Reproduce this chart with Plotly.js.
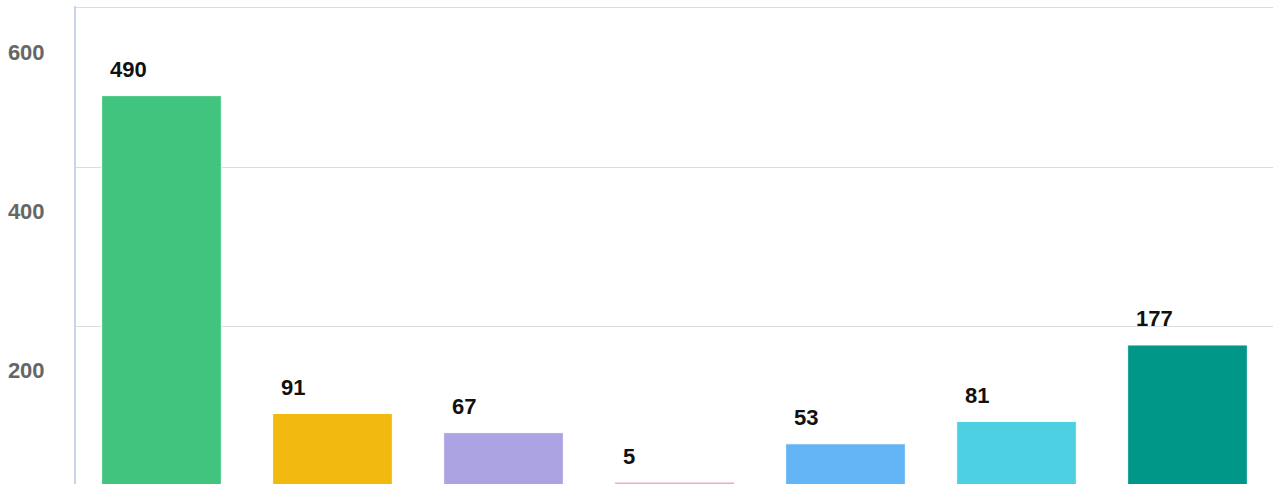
<!DOCTYPE html>
<html>
<head>
<meta charset="utf-8">
<script src="https://cdn.plot.ly/plotly-3.0.1.min.js"></script>
<style>html,body{margin:0;padding:0;background:#fff;}#chart{width:1274px;height:484px;}</style>
</head>
<body>
<div id="chart"></div>
<script>
const categories = ["A", "B", "C", "D", "E", "F", "G"];
const values = [490, 91, 67, 5, 53, 81, 177];
const barColors = ["#40C47E", "#F2B90F", "#ACA3E3", "#F4A7C1", "#64B5F6", "#4DD0E1", "#009688"];
const yTickVals = [200, 400, 600];
const yTickText = ["200", "400", "600"];

const FONT = "'Liberation Sans', Arial, Helvetica, sans-serif";

const trace = {
  type: "bar",
  x: categories,
  y: values,
  marker: { color: barColors, line: { color: "#ffffff", width: 1 } },
  hoverinfo: "skip"
};

const annotations = categories.map((c, i) => ({
  x: c, y: values[i], xref: "x", yref: "y",
  text: "<b>" + values[i] + "</b>",
  showarrow: false,
  xanchor: "left", yanchor: "middle",
  xshift: -54, yshift: 26,
  font: { family: FONT, size: 22, color: "#111111" }
}));

const layout = {
  width: 1274, height: 484,
  margin: { l: 76, r: 1, t: 6, b: 0, pad: 0 },
  paper_bgcolor: "#ffffff", plot_bgcolor: "#ffffff",
  showlegend: false,
  bargap: 0.3,
  xaxis: {
    type: "category",
    showticklabels: false, showgrid: false, zeroline: false,
    showline: false, ticks: "", fixedrange: true
  },
  yaxis: {
    range: [2.5, 602.5],
    tickvals: yTickVals, ticktext: yTickText,
    tickfont: { family: FONT, size: 22, color: "#666666", weight: "bold" },
    showgrid: true, gridcolor: "#DCDCDC", gridwidth: 1,
    zeroline: false,
    showline: true, linecolor: "#C8D5E8", linewidth: 2,
    ticks: "",
    ticklabelshift: 44,
    ticklabelstandoff: 25,
    fixedrange: true
  },
  annotations: annotations
};

Plotly.newPlot("chart", [trace], layout, { displayModeBar: false, staticPlot: true });
</script>
</body>
</html>
